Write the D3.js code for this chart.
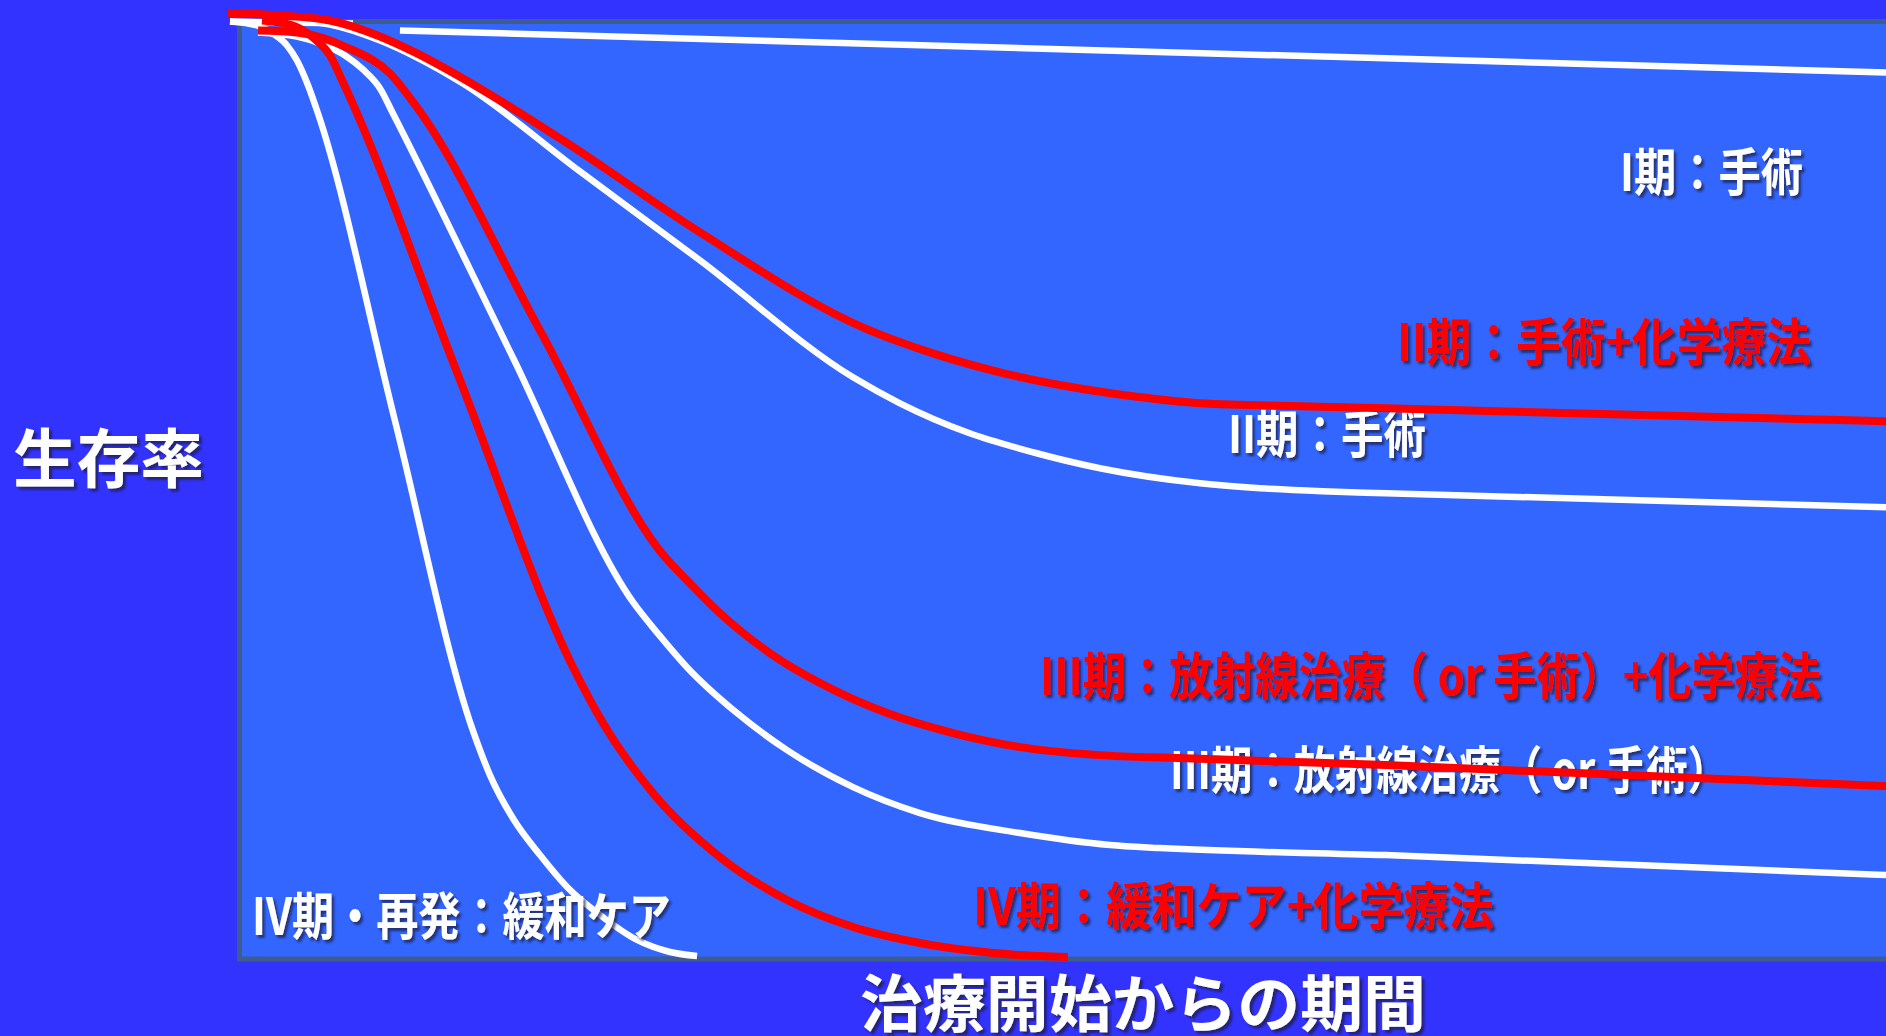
<!DOCTYPE html>
<html>
<head>
<meta charset="utf-8">
<script src="https://cdn.jsdelivr.net/npm/d3@7"></script>
<style>
  html, body { margin: 0; padding: 0; background: #3333FF; overflow: hidden; }
  svg { display: block; }
  text { font-family: "Noto Sans CJK JP", "Noto Sans", sans-serif; font-weight: 700; }
</style>
</head>
<body>
<svg id="chart" width="1886" height="1036"></svg>
<script>
// ---- Data (time: % of observed period, survival: %) ----
const stage1Time = [0.12, 7.54, null, 10.37, 100];
const stage1Surv = [99.05, 98.84, null, 98.10, 93.66];

const stage2SurgTime = [3.14, 6.15, 9.17, 11.28, 14.17, 21.23, 28.47, 37.70, 40.53, 44.57, 48.55, 52.59, 58.63, 62.24, 65.98, 69.84, 100];
const stage2SurgSurv = [99.26, 98.73, 97.04, 95.35, 92.50, 83.21, 73.81, 61.46, 58.71, 55.65, 53.54, 51.85, 50.26, 49.74, 49.42, 49.21, 47.73];

const stage2ChemoTime = [0, 3.14, 6.15, 9.17, 11.28, 14.17, 20.21, 28.47, 38.42, 42.52, 46.56, 50.60, 54.58, 58.63, 64.66, 69.84, 100];
const stage2ChemoSurv = [99.95, 99.68, 99.16, 97.47, 95.78, 93.03, 86.48, 76.77, 66.63, 63.99, 61.99, 60.51, 59.45, 58.71, 58.40, 58.18, 56.81];

const stage3RadTime = [1.81, 4.16, 5.73, 7.06, 8.14, 9.17, 9.95, 17.19, 24.43, 26.06, 27.68, 30.70, 33.72, 37.70, 41.74, 47.77, 53.20, 56.21, 69.84, 100];
const stage3RadSurv = [97.89, 97.47, 96.62, 95.46, 93.98, 91.98, 89.33, 63.52, 37.70, 34.11, 30.83, 25.98, 22.07, 18.16, 15.42, 13.31, 12.04, 11.72, 10.98, 8.87];

const stage3ChemoTime = [1.81, 4.16, 7.18, 9.77, 11.40, 18.88, 26.36, 27.68, 29.67, 32.69, 35.71, 39.75, 43.73, 47.77, 52.59, 57.36, 69.84, 100];
const stage3ChemoSurv = [98.10, 97.89, 96.30, 93.56, 89.97, 66.21, 42.45, 40.02, 36.54, 32.31, 29.15, 25.98, 23.87, 22.39, 21.54, 21.23, 20.49, 18.27];

const stage4CareTime = [0.12, 1.75, 2.71, 3.56, 4.16, 4.83, 5.43, 10.07, 14.72, 15.80, 17.25, 18.82, 20.51, 22.44, 24.67, 26.66, 28.29];
const stage4CareSurv = [99.05, 98.63, 97.78, 96.52, 94.93, 92.29, 89.33, 56.86, 24.39, 19.43, 14.68, 10.98, 7.50, 4.65, 2.01, 0.74, 0.32];

const stage4ChemoTime = [2.05, 3.74, 5.13, 6.15, 6.94, 13.87, 20.81, 22.62, 25.63, 29.67, 33.72, 37.70, 41.74, 47.77, 50.66];
const stage4ChemoSurv = [99.16, 98.73, 97.36, 95.46, 92.61, 61.72, 30.83, 24.92, 17.53, 10.77, 6.23, 3.38, 1.69, 0.42, 0.21];

const yTitle = "生存率";
const xTitle = "治療開始からの期間";

const whiteLabels = ["I期：手術", "II期：手術", "III期：放射線治療（ or 手術）", "IV期・再発：緩和ケア"];
const redLabels = ["II期：手術+化学療法", "III期：放射線治療（ or 手術）+化学療法", "IV期：緩和ケア+化学療法"];

// ---- Layout ----
const W = 1886, H = 1036;
const panel = { x: 239.5, y: 21.5, right: 1960, bottom: 959 };
const colors = { bg: "#3333FF", panel: "#3366FF", border: "#3D5D8D", white: "#FFFFFF", red: "#FF0000" };

const svg = d3.select("#chart");
const x = d3.scaleLinear().domain([0, 100]).range([228, 1886]);
const y = d3.scaleLinear().domain([0, 100]).range([959, 12.5]);

const defs = svg.append("defs");
const f = defs.append("filter").attr("id", "shadow").attr("x", "-5%").attr("y", "-20%").attr("width", "115%").attr("height", "150%");
f.append("feDropShadow").attr("dx", 3).attr("dy", 3).attr("stdDeviation", 1.2)
  .attr("flood-color", "#1d1d40").attr("flood-opacity", 0.7);

svg.append("rect").attr("x", 0).attr("y", 0).attr("width", W).attr("height", H).attr("fill", colors.bg);
svg.append("rect")
  .attr("x", panel.x).attr("y", panel.y)
  .attr("width", panel.right - panel.x).attr("height", panel.bottom - panel.y)
  .attr("fill", colors.panel).attr("stroke", colors.border).attr("stroke-width", 5);

const zip = (ts, ss) => ts.map((t, i) => ({ t, s: ss[i] }));
const line = d3.line()
  .defined(d => d.t != null)
  .x(d => x(d.t)).y(d => y(d.s))
  .curve(d3.curveMonotoneX);

function drawSeries(ts, ss, color, width) {
  svg.append("path")
    .datum(zip(ts, ss))
    .attr("d", line)
    .attr("fill", "none")
    .attr("stroke", color)
    .attr("stroke-width", width)
    .attr("stroke-linejoin", "round")
    .attr("stroke-linecap", "butt");
}

// label: left ink x, vertical ink centre, target ink width
function label(txt, x0, cy, len, size, color) {
  const t = svg.append("text")
    .attr("x", 0).attr("y", 0)
    .attr("dominant-baseline", "central")
    .attr("font-size", size)
    .attr("fill", color)
    .attr("filter", "url(#shadow)")
    .text(txt);
  const nat = t.node().getComputedTextLength() || len;
  const sx = len / nat;
  t.attr("transform", `translate(${x0},${cy - 0.05 * size}) scale(${sx},1)`);
}

// white curves
drawSeries(stage1Time, stage1Surv, colors.white, 6.5);
drawSeries(stage2SurgTime, stage2SurgSurv, colors.white, 6.5);
drawSeries(stage3RadTime, stage3RadSurv, colors.white, 6.5);
drawSeries(stage4CareTime, stage4CareSurv, colors.white, 6.5);

// white labels
label(whiteLabels[0], 1620, 171, 183, 51, colors.white);
label(whiteLabels[1], 1228, 434, 198, 51, colors.white);
label(whiteLabels[2], 1170, 769, 559, 51, colors.white);
label(whiteLabels[3], 252, 915.5, 419, 51, colors.white);

// red curves
drawSeries(stage2ChemoTime, stage2ChemoSurv, colors.red, 8);
drawSeries(stage3ChemoTime, stage3ChemoSurv, colors.red, 8);
drawSeries(stage4ChemoTime, stage4ChemoSurv, colors.red, 8);

// red labels
label(redLabels[0], 1397, 341.5, 414, 51, colors.red);
label(redLabels[1], 1040, 675.5, 781, 51, colors.red);
label(redLabels[2], 973, 905.5, 521, 51, colors.red);

// axis titles
label(yTitle, 13, 457.5, 191, 64, colors.white);
label(xTitle, 860, 1003, 566, 62, colors.white);
</script>
</body>
</html>
